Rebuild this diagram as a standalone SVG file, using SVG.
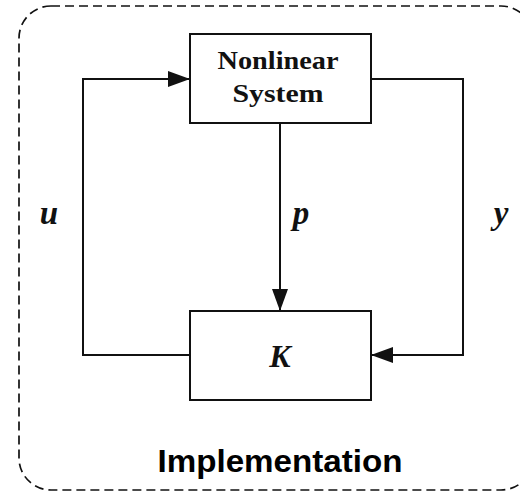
<svg xmlns="http://www.w3.org/2000/svg" width="520" height="492" viewBox="0 0 520 492">
<style>
.box{fill:#fff;stroke:#111;stroke-width:2}
.wire{fill:none;stroke:#111;stroke-width:2}
.lbl{font-family:"Liberation Serif","DejaVu Serif",serif;font-weight:bold;fill:#111}
.math{font-family:"Liberation Serif","DejaVu Serif",serif;font-weight:bold;font-style:italic;fill:#111}
</style>
<defs>
<marker id="ah" markerWidth="22" markerHeight="16" refX="22" refY="8" orient="auto" markerUnits="userSpaceOnUse">
<path d="M0,0 L22,8 L0,16 Z" fill="#111"/>
</marker>
</defs>
<g id="frame">
<rect x="19" y="6" width="514" height="484" rx="32" ry="32" fill="none" stroke="#111" stroke-width="1.7" stroke-dasharray="9,5"/>
<text x="280" y="472" font-family="'Liberation Sans','Helvetica',Arial,sans-serif" font-weight="bold" font-size="32" fill="#000" text-anchor="middle" textLength="245" lengthAdjust="spacingAndGlyphs">Implementation</text>
</g>
<g id="connectors">
<path class="wire" d="M190,355 H83 V79 H190" marker-end="url(#ah)"/>
<path class="wire" d="M280,123 V311" marker-end="url(#ah)"/>
<path class="wire" d="M371,79 H463 V355 H371" marker-end="url(#ah)"/>
</g>
<g id="nonlinear">
<rect class="box" x="190" y="34" width="181" height="89"/>
<text class="lbl" x="278" y="69" font-size="25" text-anchor="middle" textLength="121" lengthAdjust="spacingAndGlyphs">Nonlinear</text>
<text class="lbl" x="278" y="102" font-size="25" text-anchor="middle" textLength="91" lengthAdjust="spacingAndGlyphs">System</text>
</g>
<g id="K">
<rect class="box" x="190" y="311" width="181" height="89"/>
<text class="math" x="280" y="367" font-size="32" text-anchor="middle">K</text>
</g>
<g id="labels">
<text class="math" x="49" y="224" font-size="33" text-anchor="middle">u</text>
<text class="math" x="301" y="224" font-size="33" text-anchor="middle">p</text>
<text class="math" x="501" y="224" font-size="33" text-anchor="middle">y</text>
</g>
</svg>
